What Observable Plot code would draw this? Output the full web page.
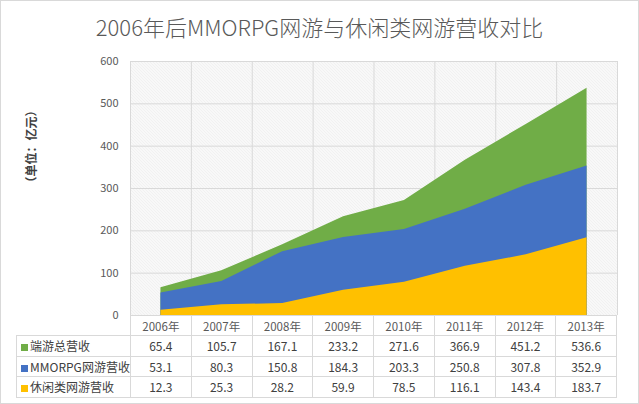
<!DOCTYPE html>
<html>
<head>
<meta charset="utf-8">
<script src="https://cdn.jsdelivr.net/npm/d3@7"></script>
<script src="https://cdn.jsdelivr.net/npm/@observablehq/plot@0.6"></script>
<style>
  html, body { margin: 0; padding: 0; background: #fff; }
  body { font-family: "Noto Sans CJK SC", "Noto Sans", sans-serif; }
  #wrap { position: relative; width: 639px; height: 404px; overflow: hidden; background: #fff; }
  #border { position: absolute; left: 0; top: 0; width: 637px; height: 402px; border: 1px solid #d9d9d9; pointer-events: none; z-index: 10; }
  #title { position: absolute; top: 13px; left: 0; width: 639px; text-align: center; font-size: 22px; font-weight: 300; line-height: 26px; color: #595959; }
  #chart { position: absolute; left: 0; top: 50px; }
  #tbl { position: absolute; left: 16px; top: 315px; border-collapse: collapse; table-layout: fixed; width: 601px; }
  #tbl td { border: 1px solid #d9d9d9; padding: 0; text-align: center; white-space: nowrap; overflow: hidden; }
  #tbl tr.hdr td { height: 19px; font-size: 11.5px; color: #595959; }
  #tbl tr.ser td { height: 19.5px; font-size: 12px; color: #404040; }
  #tbl td.lab { text-align: left; padding-left: 4px; font-size: 12px; color: #404040; }
  #tbl td.corner { border-top: none; border-left: none; }
  .sw { display: inline-block; width: 7px; height: 7px; margin-right: 2px; vertical-align: 0px; }
</style>
</head>
<body>
<div id="wrap">
  <div id="title">2006年后MMORPG网游与休闲类网游营收对比</div>
  <div id="chart"></div>
  <table id="tbl"></table>
  <div id="border"></div>
</div>
<script>
const years = [2006, 2007, 2008, 2009, 2010, 2011, 2012, 2013];
const yearLabels = years.map(y => y + "年");
const totalRevenue = [65.4, 105.7, 167.1, 233.2, 271.6, 366.9, 451.2, 536.6];
const mmorpgRevenue = [53.1, 80.3, 150.8, 184.3, 203.3, 250.8, 307.8, 352.9];
const casualRevenue = [12.3, 25.3, 28.2, 59.9, 78.5, 116.1, 143.4, 183.7];
const seriesNames = ["端游总营收", "MMORPG网游营收", "休闲类网游营收"];
const seriesColors = ["#70ad47", "#4472c4", "#ffc000"];
const yTicks = [0, 100, 200, 300, 400, 500, 600];
const yLabel = "（单位：亿元）";

const seriesValues = [totalRevenue, mmorpgRevenue, casualRevenue];
const rows = years.map((y, i) => ({ year: y, total: totalRevenue[i], mmorpg: mmorpgRevenue[i], casual: casualRevenue[i] }));
const bounds = [...years.map(y => y - 0.5), years[years.length - 1] + 0.5];

const plot = Plot.plot({
  width: 639,
  height: 265,
  marginLeft: 130,
  marginRight: 22,
  marginTop: 11,
  marginBottom: 0,
  style: { fontFamily: "'Noto Sans CJK SC', 'Noto Sans', sans-serif", fontSize: "11px", background: "transparent", overflow: "visible" },
  x: { domain: [bounds[0], bounds[bounds.length - 1]], axis: null },
  y: { domain: [0, 600], axis: null },
  marks: [
    Plot.frame({ fill: "url(#hatch)", stroke: null }),
    Plot.gridY(yTicks, { stroke: "#d9d9d9", strokeOpacity: 1, strokeWidth: 1 }),
    Plot.ruleX(bounds, { stroke: "#d9d9d9", strokeWidth: 1 }),
    Plot.areaY(rows, { x: "year", y: "total", fill: seriesColors[0] }),
    Plot.areaY(rows, { x: "year", y: "mmorpg", fill: seriesColors[1] }),
    Plot.areaY(rows, { x: "year", y: "casual", fill: seriesColors[2] }),
    Plot.axisY(yTicks, { tickSize: 0, tickPadding: 12, label: null, fill: "#595959", fontSize: 11 }),
    Plot.text([yLabel], { frameAnchor: "left", dx: -98, rotate: -90, fill: "#404040", fontSize: 12, fontWeight: "bold" })
  ]
});

const defs = d3.select(plot).insert("defs", ":first-child");
const pat = defs.append("pattern").attr("id", "hatch").attr("width", 3).attr("height", 3).attr("patternUnits", "userSpaceOnUse");
pat.append("rect").attr("width", 3).attr("height", 3).attr("fill", "#ffffff");
pat.append("path").attr("d", "M-1,-1L4,4M-1,2L1,4M2,-1L4,1").attr("stroke", "#d6d6d6").attr("stroke-width", 0.7);

document.getElementById("chart").appendChild(plot);

// data table
const tbl = d3.select("#tbl");
const cg = tbl.append("colgroup");
cg.append("col").style("width", "114px");
years.forEach(() => cg.append("col").style("width", "60.75px"));
const hdr = tbl.append("tr").attr("class", "hdr");
hdr.append("td").attr("class", "corner");
yearLabels.forEach(l => hdr.append("td").text(l));
seriesNames.forEach((name, k) => {
  const tr = tbl.append("tr").attr("class", "ser");
  const lab = tr.append("td").attr("class", "lab");
  lab.append("span").attr("class", "sw").style("background", seriesColors[k]);
  lab.append("span").text(name);
  seriesValues[k].forEach(v => tr.append("td").text(v.toFixed(1)));
});
</script>
</body>
</html>
